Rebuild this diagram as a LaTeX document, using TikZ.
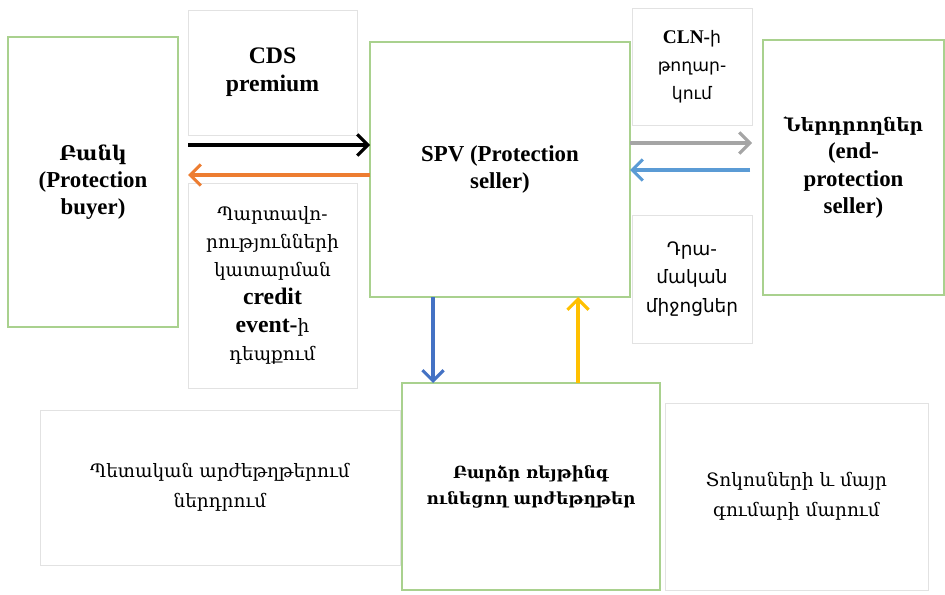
\documentclass[tikz,border=0pt]{standalone}
\usepackage{fontspec}
\setmainfont{Liberation Serif}
\newfontfamily\armserif{DejaVu Serif}
\newfontfamily\armsans{DejaVu Sans}
\usetikzlibrary{arrows.meta}
\definecolor{cdgreen}{HTML}{A9D18E}
\definecolor{cdframe}{HTML}{E2E2E2}
\definecolor{cdorange}{HTML}{ED7D31}
\definecolor{cdblue}{HTML}{4472C4}
\definecolor{cdlblue}{HTML}{5B9BD5}
\definecolor{cdgray}{HTML}{A5A5A5}
\definecolor{cdyellow}{HTML}{FFC000}
\tikzset{
  cd/party/.style={
    draw=cdgreen, line width=1.2pt, fill=white, align=center,
    inner sep=0pt, outer sep=0pt, font=\bfseries\fontsize{13}{15.5}\selectfont
  },
  cd/label/.style={
    draw=cdframe, line width=0.5pt, fill=white, align=center,
    inner sep=0pt, outer sep=0pt, font=\fontsize{10.5}{16}\selectfont
  },
  cd/arr/.style={-{Straight Barb[length=6pt,width=12pt]}, line width=1.8pt}
}

\begin{document}
\begin{tikzpicture}[x=1cm, y=1cm]
  \useasboundingbox (0,0) rectangle (18.9,11.88);

  % --- Bank and SPV ---
  \node[cd/party, minimum width=3.40cm, minimum height=5.80cm] (bank) at (1.86,8.24)
    {{\armserif\fontsize{11.5}{15.5}\selectfont Բանկ}\\(Protection\\buyer)};
  \node[cd/label, minimum width=3.38cm, minimum height=2.50cm, font=\bfseries\fontsize{13.5}{16}\selectfont] (premium) at (5.45,10.43)
    {CDS\\premium};
  \node[cd/label, minimum width=3.38cm, minimum height=4.10cm] (event) at (5.45,6.17)
    {\armserif Պարտավո-\\\armserif րությունների\\\armserif կատարման\\{\bfseries\fontsize{13.5}{16}\selectfont credit}\\{\bfseries\fontsize{13.5}{16}\selectfont event-}{\armserif ի}\\\armserif դեպքում};
  \node[cd/party, minimum width=5.20cm, minimum height=5.10cm] (spv) at (10.00,8.49)
    {SPV (Protection\\seller)};

  % --- Investors ---
  \node[cd/label, minimum width=2.40cm, minimum height=2.34cm, font=\armsans\fontsize{9.8}{16}\selectfont] (cln) at (13.84,10.55)
    {{\rmfamily\bfseries\fontsize{11}{16}\selectfont CLN-}ի\\թողար-\\կում};
  \node[cd/label, minimum width=2.40cm, minimum height=2.56cm, font=\armsans\fontsize{10.5}{16}\selectfont] (cash) at (13.84,6.30)
    {Դրա-\\մական\\միջոցներ};
  \node[cd/party, minimum width=3.62cm, minimum height=5.10cm] (investors) at (17.07,8.53)
    {{\armserif\fontsize{10.5}{15.5}\selectfont Ներդրողներ}\\(end-\\protection\\seller)};

  % --- Collateral ---
  \node[cd/label, minimum width=7.20cm, minimum height=3.10cm, font=\armserif\fontsize{10.5}{17}\selectfont] (govbonds) at (4.40,2.13)
    {Պետական արժեթղթերում\\ներդրում};
  \node[cd/party, minimum width=5.16cm, minimum height=4.14cm, font=\armserif\bfseries\fontsize{9.5}{15}\selectfont] (collateral) at (10.62,2.15)
    {Բարձր ռեյթինգ\\ունեցող արժեթղթեր};
  \node[cd/label, minimum width=5.26cm, minimum height=3.74cm, font=\armserif\fontsize{10.5}{17}\selectfont] (repay) at (15.93,1.95)
    {Տոկոսների և մայր\\գումարի մարում};

  \draw[cd/arr, black, shorten <=0.2cm] (bank.east |- 0,8.98) -- (spv.west |- 0,8.98);
  \draw[cd/arr, cdorange, shorten >=0.2cm] (spv.west |- 0,8.38) -- (bank.east |- 0,8.38);
  \draw[cd/arr, cdgray, shorten >=0.22cm] (spv.east |- 0,9.02) -- (investors.west |- 0,9.02);
  \draw[cd/arr, cdlblue, shorten <=0.26cm] (investors.west |- 0,8.48) -- (spv.east |- 0,8.48);
  \draw[cd/arr, cdblue] (spv.south -| 8.66,0) -- (collateral.north -| 8.66,0);
  \draw[cd/arr, cdyellow] (collateral.north -| 11.56,0) -- (spv.south -| 11.56,0);
\end{tikzpicture}
\end{document}
